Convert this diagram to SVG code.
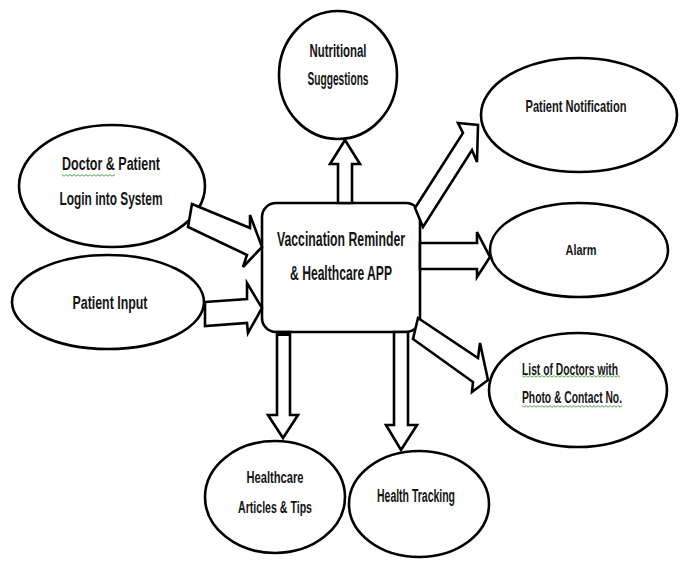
<svg xmlns="http://www.w3.org/2000/svg" width="680" height="563" viewBox="0 0 680 563">
<style>
.n{fill:#fff;stroke:#000;stroke-width:2.6}
.a{fill:#fff;stroke:#000;stroke-width:2.6;stroke-linejoin:miter}
.t{font-family:"Liberation Sans",Arial,sans-serif;font-weight:bold;fill:#141414;text-anchor:middle}
.sq{fill:url(#zig)}
</style>
<defs>
<pattern id="zig" patternUnits="userSpaceOnUse" width="4" height="3">
<path d="M0 2.2 L2 0.6 L4 2.2" fill="none" stroke="#3c9a3c" stroke-width="0.9"/>
</pattern>
</defs>
<rect width="680" height="563" fill="#fff"/>

<g id="nutritional">
<ellipse class="n" cx="338" cy="75" rx="59" ry="64"/>
<text class="t" x="338" y="57" font-size="18" textLength="57" lengthAdjust="spacingAndGlyphs">Nutritional</text>
<text class="t" x="338" y="85" font-size="18" textLength="61" lengthAdjust="spacingAndGlyphs">Suggestions</text>
</g>
<g id="notification">
<ellipse class="n" cx="579" cy="115" rx="98" ry="57"/>
<text class="t" x="576" y="112" font-size="16.5" textLength="101" lengthAdjust="spacingAndGlyphs">Patient Notification</text>
</g>
<g id="login">
<ellipse class="n" cx="112" cy="186" rx="93" ry="61"/>
<text class="t" x="111" y="170" font-size="17.5" textLength="98" lengthAdjust="spacingAndGlyphs">Doctor &amp; Patient</text>
<rect class="sq" x="62" y="174" width="53" height="3"/>
<text class="t" x="111" y="205" font-size="17.5" textLength="103" lengthAdjust="spacingAndGlyphs">Login into System</text>
</g>
<g id="input">
<ellipse class="n" cx="108" cy="302" rx="96" ry="47"/>
<text class="t" x="110" y="309" font-size="19" textLength="75" lengthAdjust="spacingAndGlyphs">Patient Input</text>
</g>
<g id="alarm">
<ellipse class="n" cx="579" cy="250" rx="89" ry="47"/>
<text class="t" x="581" y="255" font-size="15.5" textLength="31" lengthAdjust="spacingAndGlyphs">Alarm</text>
</g>
<g id="doctors">
<ellipse class="n" cx="578" cy="390" rx="89" ry="57"/>
<text class="t" x="570" y="375" font-size="17" textLength="96" lengthAdjust="spacingAndGlyphs">List of Doctors with</text>
<rect class="sq" x="522" y="375" width="98" height="3"/>
<text class="t" x="572" y="403" font-size="17" textLength="100" lengthAdjust="spacingAndGlyphs">Photo &amp; Contact No.</text>
<rect class="sq" x="522" y="405" width="100" height="3"/>
</g>
<g id="articles">
<ellipse class="n" cx="275" cy="497" rx="70" ry="56"/>
<text class="t" x="275" y="483" font-size="17" textLength="57" lengthAdjust="spacingAndGlyphs">Healthcare</text>
<text class="t" x="275" y="513" font-size="17" textLength="74" lengthAdjust="spacingAndGlyphs">Articles &amp; Tips</text>
</g>
<g id="tracking">
<ellipse class="n" cx="419" cy="504" rx="70" ry="53"/>
<text class="t" x="416" y="502" font-size="18" textLength="78" lengthAdjust="spacingAndGlyphs">Health Tracking</text>
</g>
<g id="app">
<rect class="n" x="262" y="203" width="158" height="129" rx="14"/>
<text class="t" x="341" y="246" font-size="21" textLength="128" lengthAdjust="spacingAndGlyphs">Vaccination Reminder</text>
<text class="t" x="341" y="280" font-size="21" textLength="102" lengthAdjust="spacingAndGlyphs">&amp; Healthcare APP</text>
</g>

<g id="connectors">
<polygon class="a" points="192,204 250,228 250,215 262,247 243,267 247,255 188,227"/>
<polygon class="a" points="205,302 247,299 247,283 262,308 248,333 247,323 205,326"/>
<polygon class="a" points="415,208 463,133 458,123 478,125 477,162 472,150 423,227"/>
<polygon class="a" points="420,243 477,243 477,232 490,257 477,277 477,269 420,269"/>
<polygon class="a" points="418,318 478,358 480,343 488,380 472,392 473,382 413,339"/>
<polygon class="a" points="338,203 338,164 330,164 345,140 360,164 352,164 352,203"/>
<polygon class="a" points="277,332 277,415 268,415 283,438 298,415 290,415 290,332"/>
<polygon class="a" points="394,332 394,425 386,425 401,450 417,425 408,425 408,332"/>
<rect x="277" y="332" width="13" height="4" fill="#000"/>
</g>
</svg>
